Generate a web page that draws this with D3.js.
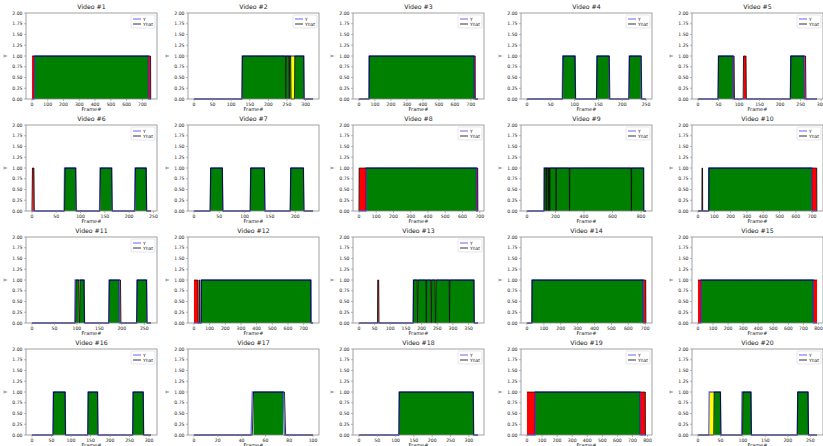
<!DOCTYPE html>
<html>
<head>
<meta charset="utf-8">
<script src="https://cdn.jsdelivr.net/npm/d3@7"></script>
<style>
  body { margin: 0; background: #fff; }
  text { font-family: "DejaVu Sans", sans-serif; fill: #222; font-weight: normal; }
</style>
</head>
<body>
<svg id="chart" width="823" height="446"></svg>
<script>
// Data section *****************************************************************
const videoIds = d3.range(1, 21);

// last frame number of each video
const frameCounts = [755, 320, 745, 250, 290, 245, 235, 690, 835, 730,
                     265, 760, 380, 705, 790, 305, 100, 325, 790, 265];

// spacing of the x tick labels
const tickSteps = [100, 50, 100, 50, 50, 50, 50, 100, 200, 100,
                   50, 100, 50, 100, 100, 50, 20, 50, 100, 50];

// frames where Y = 1 (ground truth)
const yOn = [
  [[15, 738]],
  [[130, 295]],
  [[64, 720]],
  [[75, 101], [147, 172], [215, 239]],
  [[50, 85], [226, 258]],
  [[67, 90], [140, 164], [212, 235]],
  [[33, 56], [112, 139], [191, 216]],
  [[42, 680]],
  [[120, 818]],
  [[66, 697]],
  [[96, 116], [172, 194], [234, 255]],
  [[47, 746]],
  [[174, 367]],
  [[30, 688]],
  [[22, 765]],
  [[55, 85], [144, 168], [259, 285]],
  [[49, 75]],
  [[110, 312]],
  [[55, 750]],
  [[25, 50], [98, 118], [222, 245]]
];

// frames where Yhat = 1 (prediction)
const yhatOn = [
  [[0, 752]],
  [[130, 246], [248, 255], [257, 260], [271, 295]],
  [[64, 727]],
  [[76, 101], [147, 173], [215, 240]],
  [[50, 88], [111, 117], [226, 262]],
  [[1, 4], [68, 90], [141, 164], [213, 235]],
  [[33, 56], [112, 139], [191, 216]],
  [[1, 688]],
  [[122, 134], [137, 148], [151, 158], [161, 203], [206, 297], [300, 731], [734, 818]],
  [[25, 28], [67, 728]],
  [[98, 104], [107, 116], [172, 197], [234, 255]],
  [[0, 25], [33, 37], [47, 746]],
  [[60, 63], [174, 186], [189, 214], [216, 229], [232, 243], [246, 288], [290, 367]],
  [[30, 703]],
  [[0, 790]],
  [[55, 85], [144, 168], [259, 285]],
  [[50, 76]],
  [[110, 312]],
  [[0, 785]],
  [[36, 50], [100, 118], [222, 245]]
];

const hasLegend = [true, true, true, true, true, true, false, true, true, true,
                   true, false, true, false, false, true, false, true, true, true];

const yTicks = [0, 0.25, 0.5, 0.75, 1, 1.25, 1.5, 1.75, 2];
const legendLabels = ["Y", "Yhat"];

// Layout *************************************************************************
const colLeft = [26, 188, 353, 521, 692];
const rowTop = [13, 125, 237, 349];
const axW = 131, axH = 86;

const fillColour = { tp: "green", fp: "red", fn: "yellow" };

const svg = d3.select("#chart");

videoIds.forEach((vid, i) => {
    const n = frameCounts[i];
    const left = colLeft[i % 5], top = rowTop[Math.floor(i / 5)];
    const g = svg.append("g").attr("transform", `translate(${left},${top})`);

    const x = d3.scaleLinear().domain([-0.05 * n, 1.05 * n]).range([0, axW]);
    const y = d3.scaleLinear().domain([0, 2]).range([axH, 0]);

    const inside = (list, f) => list.some(([a, b]) => f >= a && f <= b) ? 1 : 0;
    const frames = d3.range(0, n + 1);
    const yv = frames.map(f => inside(yOn[i], f));
    const hv = frames.map(f => inside(yhatOn[i], f));

    // Fill runs of frames by class (like fill_between with where=)
    const cls = frames.map((f, k) => yv[k] && hv[k] ? "tp" : (hv[k] ? "fp" : (yv[k] ? "fn" : null)));
    let start = 0;
    for (let k = 1; k <= frames.length; k++) {
        if (k === frames.length || cls[k] !== cls[start]) {
            if (cls[start] && k - 1 > start) {
                g.append("rect")
                    .attr("x", x(start))
                    .attr("y", y(1))
                    .attr("width", x(k - 1) - x(start))
                    .attr("height", y(0) - y(1))
                    .attr("fill", fillColour[cls[start]]);
            }
            start = k;
        }
    }

    const line = d3.line().x((d, k) => x(k)).y(d => y(d));
    g.append("path").attr("d", line(yv))
        .attr("fill", "none").attr("stroke", "blue").attr("stroke-opacity", 0.6).attr("stroke-width", 1.3);
    g.append("path").attr("d", line(hv))
        .attr("fill", "none").attr("stroke", "black").attr("stroke-opacity", 0.8).attr("stroke-width", 1);

    // Frame (spines)
    g.append("rect").attr("width", axW).attr("height", axH)
        .attr("fill", "none").attr("stroke", "#8a8a8a").attr("stroke-width", 0.8);

    // Y axis
    yTicks.forEach(t => {
        g.append("line").attr("x1", -2).attr("x2", 0).attr("y1", y(t)).attr("y2", y(t))
            .attr("stroke", "#8a8a8a").attr("stroke-width", 0.6);
        g.append("text").attr("x", -3.5).attr("y", y(t) + 1.6)
            .attr("text-anchor", "end").style("font-size", "4.6px").text(t.toFixed(2));
    });

    // X axis
    const xTicks = d3.range(0, 1.05 * n, tickSteps[i]).filter(t => x(t) <= axW + 0.5);
    xTicks.forEach(t => {
        g.append("line").attr("x1", x(t)).attr("x2", x(t)).attr("y1", axH).attr("y2", axH + 2)
            .attr("stroke", "#8a8a8a").attr("stroke-width", 0.6);
        g.append("text").attr("x", x(t)).attr("y", axH + 7)
            .attr("text-anchor", "middle").style("font-size", "4.6px").text(t);
    });

    g.append("text").attr("x", axW / 2).attr("y", axH + 12)
        .attr("text-anchor", "middle").style("font-size", "5px").text("Frame#");
    g.append("text").attr("transform", `translate(${-19},${axH / 2}) rotate(-90)`)
        .attr("text-anchor", "middle").style("font-size", "5px").text("Y");
    g.append("text").attr("x", axW / 2).attr("y", -4)
        .attr("text-anchor", "middle").style("font-size", "6.2px").text(`Video #${vid}`);

    // Legend
    if (hasLegend[i]) {
        const lg = g.append("g").attr("transform", `translate(${axW - 26},2)`);
        lg.append("rect").attr("width", 24).attr("height", 13).attr("rx", 1)
            .attr("fill", "#fff").attr("fill-opacity", 0.8)
            .attr("stroke", "#ccc").attr("stroke-width", 0.5);
        legendLabels.forEach((lab, k) => {
            lg.append("line").attr("x1", 2).attr("x2", 10).attr("y1", 4 + k * 5).attr("y2", 4 + k * 5)
                .attr("stroke", k === 0 ? "blue" : "black")
                .attr("stroke-opacity", k === 0 ? 0.6 : 0.8).attr("stroke-width", 1);
            lg.append("text").attr("x", 12).attr("y", 5.6 + k * 5)
                .style("font-size", "4.4px").text(lab);
        });
    }
});
</script>
</body>
</html>
